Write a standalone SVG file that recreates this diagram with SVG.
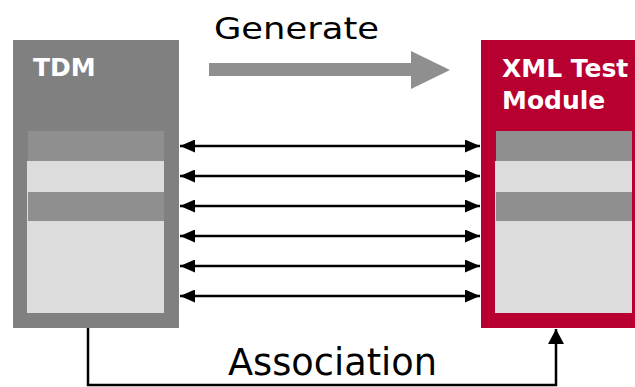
<svg xmlns="http://www.w3.org/2000/svg" width="635" height="387" viewBox="0 0 635 387">
<defs>
<style>
.lbl{font-family:"DejaVu Sans",Verdana,sans-serif;fill:#000}
.title{font-family:"DejaVu Sans",Verdana,sans-serif;font-weight:bold;fill:#fff;font-size:25px}
.dark{fill:#8f8f8f}
.light{fill:#dcdcdc}
.conn{stroke:#000;stroke-width:2.5;fill:none}
</style>
<marker id="ah" viewBox="0 0 15 13" refX="15" refY="6.5" markerWidth="15" markerHeight="13" markerUnits="userSpaceOnUse" orient="auto-start-reverse">
<path d="M0,0 L15,6.5 L0,13 Z" fill="#000"/>
</marker>
<marker id="ah2" viewBox="0 0 15 16" refX="15" refY="8" markerWidth="15" markerHeight="16" markerUnits="userSpaceOnUse" orient="auto">
<path d="M0,0 L15,8 L0,16 Z" fill="#000"/>
</marker>
</defs>
<rect width="635" height="387" fill="#fff"/>
<g id="tdm">
<rect x="13" y="40" width="166" height="288" fill="#808080"/>
<rect class="light" x="27" y="161" width="137" height="152"/>
<rect class="dark" x="28" y="131" width="136" height="30"/>
<rect class="dark" x="28" y="192" width="136" height="29"/>
<text class="title" x="33" y="76">TDM</text>
</g>
<g id="xml">
<rect x="481" y="40" width="160" height="288" fill="#b80030"/>
<rect class="light" x="495" y="161" width="137" height="152"/>
<rect class="dark" x="496" y="131" width="136" height="30"/>
<rect class="dark" x="496" y="192" width="136" height="29"/>
<text class="title" x="502" y="77">XML Test</text>
<text class="title" x="502" y="109">Module</text>
</g>
<g id="generate">
<path d="M209,63 L411,63 L411,51 L450,70 L411,89 L411,76 L209,76 Z" fill="#8f8f8f"/>
<text class="lbl" x="214" y="39" font-size="31" textLength="165" lengthAdjust="spacingAndGlyphs">Generate</text>
</g>
<g id="connectors">
<line class="conn" x1="180" y1="146" x2="480" y2="146" marker-start="url(#ah)" marker-end="url(#ah)"/>
<line class="conn" x1="180" y1="176" x2="480" y2="176" marker-start="url(#ah)" marker-end="url(#ah)"/>
<line class="conn" x1="180" y1="206" x2="480" y2="206" marker-start="url(#ah)" marker-end="url(#ah)"/>
<line class="conn" x1="180" y1="236" x2="480" y2="236" marker-start="url(#ah)" marker-end="url(#ah)"/>
<line class="conn" x1="180" y1="266" x2="480" y2="266" marker-start="url(#ah)" marker-end="url(#ah)"/>
<line class="conn" x1="180" y1="296" x2="480" y2="296" marker-start="url(#ah)" marker-end="url(#ah)"/>
<path class="conn" stroke-width="3" d="M88,328 L88,385 L556,385 L556,329" marker-end="url(#ah2)"/>
</g>
<text class="lbl" x="228" y="375" font-size="37" textLength="209" lengthAdjust="spacingAndGlyphs">Association</text>
</svg>
